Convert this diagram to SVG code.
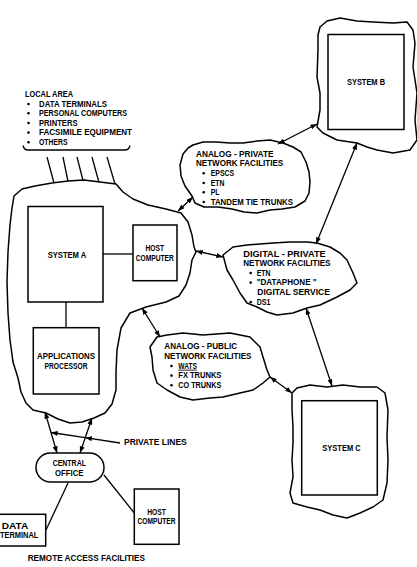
<svg xmlns="http://www.w3.org/2000/svg" width="417" height="567" viewBox="0 0 417 567">
<defs>
<marker id="ah" viewBox="0 0 8 6" refX="8" refY="3" markerWidth="7" markerHeight="5" markerUnits="userSpaceOnUse" orient="auto-start-reverse"><path d="M0,0 L8,3 L0,6 z" fill="#000"/></marker>
</defs>
<style>
text{font-family:"Liberation Sans",Arial,sans-serif;font-weight:bold;font-size:8.5px;fill:#000}
.m{text-anchor:middle}
.cloud{fill:none;stroke:#000;stroke-width:1.5;stroke-linejoin:round}
.box{fill:none;stroke:#000;stroke-width:1.5}
.ln{fill:none;stroke:#000;stroke-width:1.3}
.ar{fill:none;stroke:#000;stroke-width:1.3;marker-start:url(#ah);marker-end:url(#ah)}
.b{fill:#000}
</style>
<rect width="417" height="567" fill="#fff"/>

<g id="local-area">
<text x="25" y="97.3" textLength="48" lengthAdjust="spacingAndGlyphs">LOCAL AREA</text>
<circle class="b" cx="28.5" cy="104" r="1.3"/><text x="39" y="106.7" textLength="68" lengthAdjust="spacingAndGlyphs">DATA TERMINALS</text>
<circle class="b" cx="28.5" cy="113.3" r="1.3"/><text x="39" y="116" textLength="88" lengthAdjust="spacingAndGlyphs">PERSONAL COMPUTERS</text>
<circle class="b" cx="28.5" cy="123" r="1.3"/><text x="39" y="125.7" textLength="38.5" lengthAdjust="spacingAndGlyphs">PRINTERS</text>
<circle class="b" cx="28.5" cy="132.6" r="1.3"/><text x="39" y="135.3" textLength="93" lengthAdjust="spacingAndGlyphs">FACSIMILE EQUIPMENT</text>
<circle class="b" cx="28.5" cy="142.3" r="1.3"/><text x="39" y="145" textLength="28.5" lengthAdjust="spacingAndGlyphs">OTHERS</text>
<path class="ln" d="M23,145.5 Q24,150 28,150 L125,150 Q129,150 130,145.5"/>
<path class="ln" d="M47,157 L54,183 M63,157 L68,181.5 M77,157 L83,180.5 M92,157 L99,182.5 M107,157 L115,184"/>
</g>

<g id="system-a-cloud">
<path class="cloud" d="M14,196 L22,189 L35,186 L52,183 L68,181 L84,180 L100,182 L116,184 L123,192 L133,199 L148,205 L166,209 L181,213 L188,222 L192,235 L194,247 L196,252 L192,260 L190,273 L186,285 L179,296 L166,302 L146,307 L130,313 L121,328 L117,350 L116,372 L116,390 L112,404 L105,413 L94,418 L82,422 L70,423 L58,419 L46,413 L33,410 L26,403 L21,392 L18,378 L13,362 L10,340 L8,313 L7,282 L8,252 L10,225 L12,208 Z"/>
</g>

<g id="system-a">
<rect class="box" x="28" y="206.5" width="75" height="95.5"/>
<text class="m" x="67" y="257.7" textLength="38.5" lengthAdjust="spacingAndGlyphs">SYSTEM A</text>
</g>

<g id="host-computer">
<rect class="box" x="133" y="225" width="44" height="55.7"/>
<text class="m" x="154.8" y="251.3" textLength="18.6" lengthAdjust="spacingAndGlyphs">HOST</text>
<text class="m" x="154.8" y="261" textLength="38.2" lengthAdjust="spacingAndGlyphs">COMPUTER</text>
</g>

<g id="applications-processor">
<rect class="box" x="33.3" y="327.7" width="65.7" height="66.3"/>
<text class="m" x="66" y="359" textLength="57.8" lengthAdjust="spacingAndGlyphs">APPLICATIONS</text>
<text class="m" x="66" y="369" textLength="43" lengthAdjust="spacingAndGlyphs">PROCESSOR</text>
</g>

<g id="analog-private">
<path class="cloud" d="M193,145 L203,142 L216,142 L230,143 L243,143 L257,141 L270,140 L283,143 L293,147 L301,152 L306,162 L309,172 L310,182 L309,193 L305,201 L295,207 L282,209 L270,210 L257,213 L244,212 L232,209 L218,207 L204,207 L195,203 L192,196 L185,186 L181,176 L180,165 L183,154 L188,148 Z"/>
<text x="196" y="156.7" textLength="77.4" lengthAdjust="spacingAndGlyphs">ANALOG - PRIVATE</text>
<text x="196" y="166" textLength="87.2" lengthAdjust="spacingAndGlyphs">NETWORK FACILITIES</text>
<circle class="b" cx="203.7" cy="173.3" r="1.3"/><text x="210.7" y="176" textLength="23.5" lengthAdjust="spacingAndGlyphs">EPSCS</text>
<circle class="b" cx="203.7" cy="183" r="1.3"/><text x="210.7" y="185.7" textLength="13.7" lengthAdjust="spacingAndGlyphs">ETN</text>
<circle class="b" cx="203.7" cy="192.3" r="1.3"/><text x="210.7" y="195" textLength="8.8" lengthAdjust="spacingAndGlyphs">PL</text>
<circle class="b" cx="203.7" cy="202" r="1.3"/><text x="210.7" y="204.7" textLength="82.3" lengthAdjust="spacingAndGlyphs">TANDEM TIE TRUNKS</text>
</g>

<g id="system-b">
<path class="cloud" d="M320,27 L327,21 L340,18 L357,21 L373,22 L393,23 L407,22 L413,30 L415,43 L413,67 L417,93 L415,120 L417,140 L410,150 L393,153 L377,150 L367,147 L357,143 L337,140 L323,133 L317,127 L320,110 L320,93 L317,77 L318,50 L318,35 Z"/>
<rect class="box" x="328" y="34.5" width="76" height="95"/>
<text class="m" x="366" y="84.7" textLength="38" lengthAdjust="spacingAndGlyphs">SYSTEM B</text>
</g>

<g id="digital-private">
<path class="cloud" d="M223,255 L233,247 L247,245 L260,244 L273,243 L290,242 L307,242 L317,243 L330,247 L340,253 L347,260 L353,273 L357,283 L350,290 L337,297 L320,305 L307,308 L293,313 L277,315 L267,312 L257,307 L247,303 L240,293 L233,280 L227,270 Z"/>
<text x="243.3" y="256.7" textLength="82.3" lengthAdjust="spacingAndGlyphs">DIGITAL - PRIVATE</text>
<text x="243.3" y="265.7" textLength="87.2" lengthAdjust="spacingAndGlyphs">NETWORK FACILITIES</text>
<circle class="b" cx="250.7" cy="273" r="1.3"/><text x="256.7" y="275.7" textLength="13.7" lengthAdjust="spacingAndGlyphs">ETN</text>
<circle class="b" cx="250.7" cy="282.6" r="1.3"/><text x="256.7" y="285.3" textLength="60" lengthAdjust="spacingAndGlyphs">"DATAPHONE "</text>
<text x="257.3" y="295" textLength="72.6" lengthAdjust="spacingAndGlyphs">DIGITAL SERVICE</text>
<circle class="b" cx="250.7" cy="302" r="1.3"/><text x="256.7" y="304.7" textLength="13.7" lengthAdjust="spacingAndGlyphs">DS1</text>
</g>

<g id="analog-public">
<path class="cloud" d="M157,337 L167,335 L183,333 L203,335 L230,333 L250,337 L260,347 L263,357 L267,370 L270,377 L263,383 L253,390 L240,393 L223,397 L210,398 L193,400 L180,397 L167,390 L157,383 L153,370 L152,357 L150,347 Z"/>
<text x="164.3" y="349" textLength="72.8" lengthAdjust="spacingAndGlyphs">ANALOG - PUBLIC</text>
<text x="164.3" y="358.7" textLength="87.2" lengthAdjust="spacingAndGlyphs">NETWORK FACILITIES</text>
<circle class="b" cx="171.5" cy="366" r="1.3"/><text x="178.3" y="368.7" textLength="18.6" lengthAdjust="spacingAndGlyphs" text-decoration="underline">WATS</text>
<circle class="b" cx="171.5" cy="375.6" r="1.3"/><text x="178.3" y="378.3" textLength="43.1" lengthAdjust="spacingAndGlyphs">FX TRUNKS</text>
<circle class="b" cx="171.5" cy="385.3" r="1.3"/><text x="178.3" y="388" textLength="43.1" lengthAdjust="spacingAndGlyphs">CO TRUNKS</text>
</g>

<g id="system-c">
<path class="cloud" d="M292,393 L297,388 L310,385 L327,387 L343,385 L360,387 L377,387 L385,393 L388,410 L387,437 L388,460 L387,483 L383,500 L373,507 L360,513 L347,518 L333,515 L320,510 L307,507 L293,503 L290,493 L293,477 L292,460 L293,443 L293,427 L292,410 Z"/>
<rect class="box" x="301.7" y="400.7" width="75.6" height="94.3"/>
<text class="m" x="341.5" y="450.7" textLength="38.3" lengthAdjust="spacingAndGlyphs">SYSTEM C</text>
</g>

<g id="central-office">
<rect class="box" x="36" y="453" width="68" height="29" rx="14.5"/>
<text class="m" x="69.3" y="466" textLength="33.3" lengthAdjust="spacingAndGlyphs">CENTRAL</text>
<text class="m" x="69.3" y="475.7" textLength="28.4" lengthAdjust="spacingAndGlyphs">OFFICE</text>
</g>

<g id="data-terminal">
<rect class="box" x="-2" y="514.3" width="47.7" height="31.7"/>
<text x="1.7" y="528.7" textLength="26.5" lengthAdjust="spacingAndGlyphs">DATA</text>
<text x="0" y="538.3" textLength="38.3" lengthAdjust="spacingAndGlyphs">TERMINAL</text>
</g>

<g id="remote-host-computer">
<rect class="box" x="134.3" y="489" width="44.7" height="55.3"/>
<text class="m" x="156.5" y="514.7" textLength="18.6" lengthAdjust="spacingAndGlyphs">HOST</text>
<text class="m" x="156.5" y="524" textLength="38.2" lengthAdjust="spacingAndGlyphs">COMPUTER</text>
</g>

<g id="labels">
<text x="124" y="445.3" textLength="62.7" lengthAdjust="spacingAndGlyphs">PRIVATE LINES</text>
<text x="27.7" y="561" textLength="117.3" lengthAdjust="spacingAndGlyphs">REMOTE ACCESS FACILITIES</text>
</g>

<g id="connectors">
<path class="ln" d="M103,254 L133,254"/>
<path class="ln" d="M66,302 L66,327.7"/>
<path class="ar" d="M178,211 L193,197"/>
<path class="ar" d="M278,144 L317,124"/>
<path class="ar" d="M196,251 L223,257"/>
<path class="ar" d="M316,244 L357,143"/>
<path class="ar" d="M306,308 L332,386"/>
<path class="ar" d="M142,308 L160,337"/>
<path class="ar" d="M270,377 L292,393"/>
<path class="ar" d="M45,412 L57,453"/>
<path class="ar" d="M92,418 L80,453"/>
<path class="ln" d="M120,443 L85.2,437.7" marker-end="url(#ah)"/>
<path class="ln" d="M85.2,437.7 L51,432.5" marker-end="url(#ah)"/>
<path class="ln" d="M68,483 L46,530"/>
<path class="ln" d="M104,475 L134.3,513"/>
</g>
</svg>
